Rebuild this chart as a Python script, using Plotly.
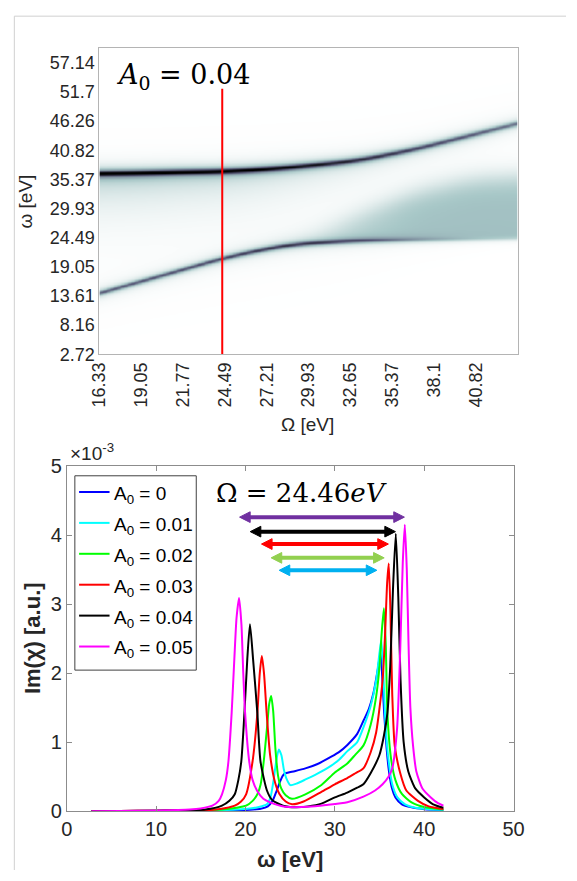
import numpy as np
import plotly.graph_objects as go

W, H = 577, 881
def px(x):
    return x / W
def py(y):
    return 1 - y / H

# ---------------- top panel (A0 = 0.04 map) ----------------
top_xtick_labels = ["16.33", "19.05", "21.77", "24.49", "27.21", "29.93", "32.65", "35.37", "38.1", "40.82"]
top_ytick_labels = ["2.72", "8.16", "13.61", "19.05", "24.49", "29.93", "35.37", "40.82", "46.26", "51.7", "57.14"]
top_xrange = [16.33, 43.54]
top_yrange = [2.72, 59.86]

# branch positions (Omega nodes, eV)
omega_nodes = [16.33, 19.05, 21.77, 24.32, 27.0, 29.25, 33.0, 36.76, 40.5, 43.54]
upper_branch = [36.5, 36.6, 36.8, 36.9, 37.3, 37.8, 38.9, 41.0, 43.7, 45.9]
upper_amp = [0.97, 0.97, 0.96, 0.95, 0.93, 0.88, 0.78, 0.68, 0.6, 0.52]
lower_branch = [14.2, 16.4, 18.6, 20.7, 22.4, 23.4, 24.0, 24.2, 24.3, 24.4]
lower_amp = [0.6, 0.62, 0.64, 0.67, 0.74, 0.76, 0.6, 0.3, 0.1, 0.04]
cont_top = [14.2, 16.4, 18.6, 20.7, 22.4, 24.0, 28.6, 32.8, 35.3, 35.8]
cont_amp = [0.0, 0.0, 0.0, 0.0, 0.02, 0.08, 0.2, 0.26, 0.27, 0.27]
haze_amp = [0.2, 0.19, 0.17, 0.15, 0.12, 0.09, 0.05, 0.02, 0.01, 0.0]
cut_omega = 24.32          # red cut line position
cut_top = 52.3

Om = np.linspace(top_xrange[0], top_xrange[1], 300)
wv = np.linspace(top_yrange[0], top_yrange[1], 420)

def smooth_curve(nodes_y, win=31):
    c = np.interp(Om, omega_nodes, nodes_y)
    pad = win // 2
    cp = np.concatenate([np.full(pad, c[0]) + (c[0] - c[1:pad + 1][::-1]), c,
                         np.full(pad, c[-1]) + (c[-1] - c[-pad - 1:-1][::-1])])
    k = np.ones(win) / win
    return np.convolve(cp, k, mode="valid")

up = smooth_curve(upper_branch)[None, :]
ua = smooth_curve(upper_amp)[None, :]
lo = smooth_curve(lower_branch)[None, :]
la = smooth_curve(lower_amp)[None, :]
ct = smooth_curve(cont_top)[None, :]
ca = smooth_curve(cont_amp)[None, :]
ha = smooth_curve(haze_amp)[None, :]
WW = wv[:, None]
sig = lambda t: 1.0 / (1.0 + np.exp(-t))
g_u, g_l = 0.42, 0.36
z = ua * g_u**2 / ((WW - up)**2 + g_u**2)
z = z + la * g_l**2 / ((WW - lo)**2 + g_l**2)
z = z + np.clip(ca, 0, None) * sig((WW - lo) / 0.25) * sig((ct - WW) / 1.3)
z = z + np.clip(ha, 0, None) * np.where(WW < up, np.exp(-(up - WW) / 5.0), np.exp(-(WW - up) / 0.8))
z = np.clip(z, 0, 1)
z = np.round(z, 3)

# reversed MATLAB "bone" colormap
bone_r = [[0.0, "rgb(255,255,255)"], [0.25, "rgb(167,199,199)"],
          [0.625, "rgb(84,84,116)"], [1.0, "rgb(0,0,0)"]]

# ---------------- bottom panel (spectra at Omega = 24.46 eV) ----------------
w_a00 = [2.77, 6, 10, 14, 17, 19, 20.5, 21.7, 22.5, 23.1, 23.5, 23.84, 24.2, 24.5, 25.5, 26.7, 28.0, 29.6, 30.5, 31.4, 32.5, 33.2, 33.8, 34.3, 34.8, 35.1, 35.3, 35.52, 35.8, 36.06, 36.4, 36.78, 37.5, 38.58, 40.0, 41.0, 42.15]
v_a00 = [0.0, 0.002, 0.004, 0.007, 0.011, 0.016, 0.022, 0.035, 0.07, 0.17, 0.30, 0.42, 0.52, 0.55, 0.58, 0.62, 0.68, 0.79, 0.86, 0.96, 1.12, 1.31, 1.48, 1.70, 2.05, 2.30, 1.95, 1.42, 0.90, 0.575, 0.33, 0.20, 0.10, 0.056, 0.03, 0.022, 0.015]

w_a01 = [2.77, 6, 10, 14, 17, 19, 20.5, 21.5, 22.4, 22.8, 23.12, 23.48, 23.73, 24.02, 24.3, 24.56, 25.03, 25.7, 26.72, 28.0, 29.6, 30.5, 31.4, 32.5, 33.19, 34.0, 34.62, 35.0, 35.2, 35.42, 35.7, 36.0, 36.42, 37.0, 37.86, 39.0, 40.5, 42.15]
v_a01 = [0.0, 0.002, 0.005, 0.009, 0.015, 0.025, 0.04, 0.06, 0.10, 0.20, 0.43, 0.76, 0.895, 0.81, 0.60, 0.48, 0.377, 0.40, 0.46, 0.54, 0.66, 0.75, 0.87, 1.0, 1.21, 1.52, 1.89, 2.30, 2.48, 2.0, 1.19, 0.75, 0.39, 0.20, 0.10, 0.05, 0.03, 0.02]

w_a02 = [2.77, 6, 10, 14, 17.4, 19.0, 20.07, 20.8, 21.33, 21.7, 22.04, 22.4, 22.65, 22.87, 23.1, 23.35, 23.66, 24.0, 24.5, 25.2, 26.7, 28.5, 30.0, 31.39, 32.3, 33.19, 34.0, 34.62, 35.0, 35.25, 35.49, 35.7, 35.88, 36.3, 36.78, 37.5, 38.58, 40.0, 42.15]
v_a02 = [0.0, 0.003, 0.006, 0.012, 0.025, 0.05, 0.08, 0.15, 0.245, 0.39, 0.72, 1.2, 1.55, 1.67, 1.45, 0.9, 0.50, 0.33, 0.23, 0.18, 0.245, 0.38, 0.56, 0.69, 0.82, 0.95, 1.25, 1.66, 2.1, 2.6, 2.94, 2.4, 1.42, 0.75, 0.45, 0.25, 0.127, 0.06, 0.025]

w_a03 = [2.77, 6, 10, 14, 16.4, 17.8, 18.8, 19.5, 20.07, 20.79, 21.33, 21.6, 21.83, 22.07, 22.37, 22.76, 23.3, 23.8, 24.5, 25.2, 26.5, 28.5, 30.0, 31.39, 32.3, 33.19, 34.0, 34.62, 35.34, 35.63, 35.85, 36.03, 36.22, 36.42, 36.7, 37.32, 38.0, 39.3, 40.5, 42.15]
v_a03 = [0.0, 0.003, 0.007, 0.013, 0.022, 0.045, 0.08, 0.14, 0.245, 0.72, 1.42, 2.0, 2.25, 2.0, 1.42, 0.81, 0.42, 0.25, 0.14, 0.10, 0.14, 0.28, 0.39, 0.48, 0.55, 0.62, 0.85, 1.14, 1.89, 2.6, 3.3, 3.59, 2.9, 1.7, 0.95, 0.55, 0.30, 0.15, 0.07, 0.03]

w_a04 = [2.77, 6, 10, 12, 15.5, 17.37, 18.2, 18.8, 19.2, 19.53, 19.88, 20.2, 20.5, 20.85, 21.33, 21.68, 22.4, 23.0, 24.2, 25.6, 27.0, 28.5, 30.0, 31.39, 32.5, 33.19, 34.0, 34.98, 35.5, 35.88, 36.2, 36.5, 36.82, 37.1, 37.35, 37.7, 38.22, 39.0, 40.0, 41.0, 42.15]
v_a04 = [0.0, 0.004, 0.008, 0.011, 0.024, 0.08, 0.15, 0.245, 0.45, 0.72, 1.42, 2.2, 2.71, 2.2, 1.42, 0.72, 0.30, 0.16, 0.08, 0.056, 0.07, 0.11, 0.2, 0.27, 0.34, 0.39, 0.55, 0.81, 1.1, 1.42, 2.1, 3.2, 4.02, 3.1, 1.9, 1.0, 0.575, 0.33, 0.2, 0.1, 0.05]

w_a05 = [2.77, 6, 10, 13.78, 15.0, 16.29, 17.0, 17.37, 17.8, 18.09, 18.45, 18.75, 19.0, 19.28, 19.55, 19.75, 19.96, 20.42, 20.8, 21.33, 22.0, 22.76, 24.0, 24.9, 27.0, 29.0, 31.4, 33.2, 34.5, 35.34, 36.0, 36.42, 36.96, 37.32, 37.6, 37.83, 38.05, 38.25, 38.45, 38.75, 39.12, 39.8, 40.74, 41.5, 42.15]
v_a05 = [0.0, 0.004, 0.01, 0.024, 0.04, 0.08, 0.15, 0.245, 0.45, 0.72, 1.42, 2.2, 2.8, 3.09, 2.7, 2.0, 1.42, 0.72, 0.45, 0.29, 0.18, 0.127, 0.075, 0.06, 0.065, 0.09, 0.13, 0.21, 0.30, 0.39, 0.50, 0.62, 1.19, 2.36, 3.6, 4.15, 3.5, 2.4, 1.5, 0.95, 0.575, 0.33, 0.2, 0.12, 0.08]

series_labels = ["A<sub>0</sub> = 0", "A<sub>0</sub> = 0.01", "A<sub>0</sub> = 0.02",
                 "A<sub>0</sub> = 0.03", "A<sub>0</sub> = 0.04", "A<sub>0</sub> = 0.05"]
series_colors = ["#0000ff", "#00ffff", "#00ff00", "#ff0000", "#000000", "#ff00ff"]
series_w = [w_a00, w_a01, w_a02, w_a03, w_a04, w_a05]
series_v = [v_a00, v_a01, v_a02, v_a03, v_a04, v_a05]
scale = 1e-3

# splitting arrows (low peak -> high peak), in (omega, Im chi x1e-3)
arrow_start = [19.34, 20.53, 21.79, 22.87, 23.77]
arrow_end = [37.78, 36.78, 35.99, 35.52, 34.70]
arrow_level = [4.26, 4.05, 3.87, 3.67, 3.49]
arrow_colors = ["#7030a0", "#000000", "#ff0000", "#92d050", "#00b0f0"]

bot_xticks = [0, 10, 20, 30, 40, 50]
bot_yticks = [0, 1, 2, 3, 4, 5]

# pixel geometry of the axes
TX0, TX1, TY0, TY1 = 92.75, 527.0, 38.3, 352.0
BX0, BX1, BY0, BY1 = 58.9, 522.6, 466.7, 820.7
dx_per_px = 50.0 / (BX1 - BX0)
dy_per_px = 5 * scale / (BY1 - BY0)

fig = go.Figure()
fig.add_trace(go.Heatmap(x=Om, y=wv, z=z, colorscale=bone_r, zmin=0, zmax=1,
                         showscale=False, zsmooth="best", hoverinfo="skip",
                         xaxis="x", yaxis="y"))
fig.add_trace(go.Scatter(x=[cut_omega, cut_omega], y=[top_yrange[0], cut_top], mode="lines",
                         line=dict(color="#ff0000", width=2), xaxis="x", yaxis="y",
                         hoverinfo="skip"))
for wlist, vlist, col in zip(series_w, series_v, series_colors):
    fig.add_trace(go.Scatter(x=wlist, y=[v * scale for v in vlist], mode="lines",
                             line=dict(color=col, width=2, shape="spline", smoothing=0.6),
                             xaxis="x2", yaxis="y2", hoverinfo="skip"))

tick_font_top = dict(family="Liberation Sans, Arial, sans-serif", size=18, color="#262626")
tick_font_bot = dict(family="Liberation Sans, Arial, sans-serif", size=20, color="#262626")

annotations = []
annotations.append(dict(xref="paper", yref="paper", x=px(108), y=py(67), xanchor="left", yanchor="middle",
                        align="left", text="<i>A</i><sub>0</sub> = 0.04", showarrow=False,
                        font=dict(family="DejaVu Serif, serif", size=27, color="black")))
annotations.append(dict(xref="paper", yref="paper", x=px(309), y=py(424), xanchor="center", yanchor="middle",
                        text="Ω [eV]", showarrow=False,
                        font=dict(family="Liberation Sans, Arial, sans-serif", size=19, color="#262626")))
annotations.append(dict(xref="paper", yref="paper", x=px(16), y=py(195), xanchor="center", yanchor="middle",
                        text="ω [eV]", textangle=-90, showarrow=False,
                        font=dict(family="Liberation Sans, Arial, sans-serif", size=19, color="#262626")))
annotations.append(dict(xref="paper", yref="paper", x=px(212), y=py(494), xanchor="left", yanchor="middle",
                        align="left", text="Ω = 24.46<i>eV</i>", showarrow=False,
                        font=dict(family="DejaVu Serif, serif", size=26, color="black")))
annotations.append(dict(xref="paper", yref="paper", x=px(291), y=py(870), xanchor="center", yanchor="middle",
                        text="<b>ω [eV]</b>", showarrow=False,
                        font=dict(family="Liberation Sans, Arial, sans-serif", size=22, color="#262626")))
annotations.append(dict(xref="paper", yref="paper", x=px(24), y=py(643), xanchor="center", yanchor="middle",
                        text="<b>Im(χ) [a.u.]</b>", textangle=-90, showarrow=False,
                        font=dict(family="Liberation Sans, Arial, sans-serif", size=22, color="#262626")))
annotations.append(dict(xref="paper", yref="paper", x=px(60), y=py(452), xanchor="left", yanchor="middle",
                        align="left", text="×10<sup>-3</sup>", showarrow=False,
                        font=dict(family="Liberation Sans, Arial, sans-serif", size=19, color="#262626")))

shapes = []
# double-headed splitting arrows: shaft + two filled heads
head_len = 11 * dx_per_px
head_half = 5.5 * dy_per_px
for s, e, lv, col in zip(arrow_start, arrow_end, arrow_level, arrow_colors):
    yv = lv * scale
    shapes.append(dict(type="line", xref="x2", yref="y2", x0=s + head_len * 0.8, x1=e - head_len * 0.8,
                       y0=yv, y1=yv, line=dict(color=col, width=4)))
    shapes.append(dict(type="path", xref="x2", yref="y2",
                       path=f"M {e} {yv} L {e - head_len} {yv + head_half} L {e - head_len} {yv - head_half} Z",
                       fillcolor=col, line=dict(color=col, width=1)))
    shapes.append(dict(type="path", xref="x2", yref="y2",
                       path=f"M {s} {yv} L {s + head_len} {yv + head_half} L {s + head_len} {yv - head_half} Z",
                       fillcolor=col, line=dict(color=col, width=1)))

# legend box
lx0, lx1, ly0, ly1 = 67.3, 193.3, 476.7, 676
shapes.append(dict(type="rect", xref="paper", yref="paper", x0=px(lx0), x1=px(lx1), y0=py(ly0), y1=py(ly1),
                   line=dict(color="#404040", width=1), fillcolor="white", layer="above"))
for i, (lab, col) in enumerate(zip(series_labels, series_colors)):
    yc = 493.3 + 31.7 * i
    shapes.append(dict(type="line", xref="paper", yref="paper", x0=px(71.7), x1=px(103.3),
                       y0=py(yc), y1=py(yc), line=dict(color=col, width=2), layer="above"))
    annotations.append(dict(xref="paper", yref="paper", x=px(105.5), y=py(yc + 3), xanchor="left",
                            yanchor="middle", align="left", text=lab, showarrow=False,
                            font=dict(family="Liberation Sans, Arial, sans-serif", size=19, color="black")))
# faint outer frame of the original figure
shapes.append(dict(type="line", xref="paper", yref="paper", x0=px(4.5), x1=1.0, y0=py(5.3), y1=py(5.3),
                   line=dict(color="#d0d0d0", width=1)))
shapes.append(dict(type="line", xref="paper", yref="paper", x0=px(4.5), x1=px(4.5), y0=py(5.3), y1=0,
                   line=dict(color="#d0d0d0", width=1)))

fig.update_layout(
    width=W, height=H, autosize=False, margin=dict(l=0, r=0, t=0, b=0),
    paper_bgcolor="white", plot_bgcolor="white", showlegend=False,
    xaxis=dict(domain=[px(TX0), px(TX1)], range=top_xrange, tickmode="array",
               tickvals=[float(t) for t in top_xtick_labels], ticktext=top_xtick_labels,
               tickangle=-90, tickfont=tick_font_top, ticks="", showline=True, mirror=True,
               linecolor="#b4b4b4", linewidth=1, showgrid=False, zeroline=False, anchor="y"),
    yaxis=dict(domain=[py(TY1), py(TY0)], range=top_yrange, tickmode="array",
               tickvals=[float(t) for t in top_ytick_labels], ticktext=top_ytick_labels,
               tickfont=tick_font_top, ticks="", showline=True, mirror=True,
               linecolor="#b4b4b4", linewidth=1, showgrid=False, zeroline=False, anchor="x"),
    xaxis2=dict(domain=[px(BX0), px(BX1)], range=[0, 50], tickmode="array",
                tickvals=bot_xticks, ticktext=[str(t) for t in bot_xticks],
                tickfont=tick_font_bot, ticks="inside", ticklen=5, tickcolor="#8c8c8c",
                showline=True, mirror="ticks", linecolor="#8c8c8c", linewidth=1,
                showgrid=False, zeroline=False, anchor="y2"),
    yaxis2=dict(domain=[py(BY1), py(BY0)], range=[0, 5 * scale], tickmode="array",
                tickvals=[t * scale for t in bot_yticks], ticktext=[str(t) for t in bot_yticks],
                tickfont=tick_font_bot, ticks="inside", ticklen=5, tickcolor="#8c8c8c",
                showline=True, mirror="ticks", linecolor="#8c8c8c", linewidth=1,
                showgrid=False, zeroline=False, anchor="x2"),
    annotations=annotations, shapes=shapes,
)
post = ("var s=document.createElement('style');"
        "s.textContent='html,body{margin:0!important;padding:0!important;overflow:hidden!important;}';"
        "document.head.appendChild(s);")
fig.write_html("out.html", config={"displayModeBar": False}, post_script=post)
